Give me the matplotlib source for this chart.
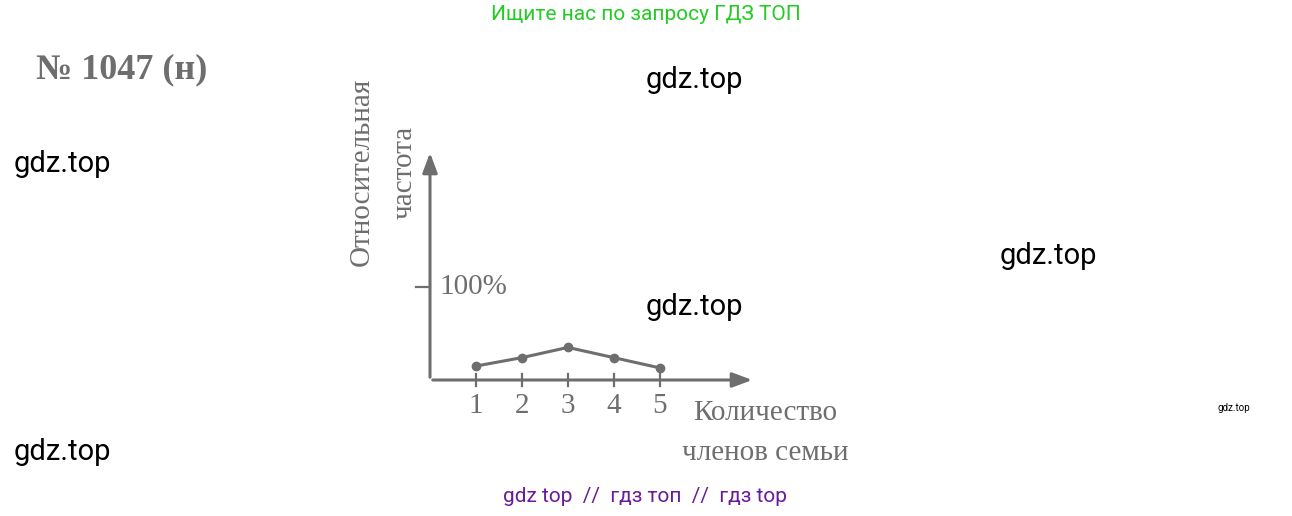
import matplotlib
matplotlib.use("Agg")
import matplotlib.pyplot as plt

members = [1, 2, 3, 4, 5]
rel_freq = [15, 24, 35, 24, 13]
tick_labels = ["1", "2", "3", "4", "5"]

W, H = 1292, 516
fig = plt.figure(figsize=(W/100, H/100), dpi=100)
gray = "#6e6e6e"
serif = "Liberation Serif"

def fx(px): return px / W
def fy(py): return 1 - py / H

ax = fig.add_axes([fx(430), fy(380), (755-430)/W, (380-150)/H])
ax.set_xlim(0, 7.07)
ax.set_ylim(0, 247)
ax.axis("off")
ax.annotate("", xy=(7.07, 0), xytext=(0, 0),
            arrowprops=dict(arrowstyle="-|>,head_length=1.2,head_width=0.45", color=gray, lw=2.2))
ax.annotate("", xy=(0, 247), xytext=(0, 0),
            arrowprops=dict(arrowstyle="-|>,head_length=1.2,head_width=0.45", color=gray, lw=2.2))
ax.plot(members, rel_freq, color=gray, lw=2.2, marker="o", ms=6, clip_on=False)
for m, l in zip(members, tick_labels):
    ax.plot([m, m], [-6, 6], color=gray, lw=1.6, clip_on=False)
    ax.text(m, -14, l, ha="center", va="top", fontsize=21, color=gray, family=serif)
ax.plot([-0.3, 0.0], [100, 100], color=gray, lw=1.6, clip_on=False)
ax.text(0.2, 100, "100%", ha="left", va="center", fontsize=21, color=gray, family=serif)

fig.text(fx(362), fy(172), "Относительная", rotation=90, ha="center", va="center",
         fontsize=21, color=gray, family=serif)
fig.text(fx(405), fy(172), "частота", rotation=90, ha="center", va="center",
         fontsize=21, color=gray, family=serif)
fig.text(fx(765), fy(413), "Количество", ha="center", va="center", fontsize=21, color=gray, family=serif)
fig.text(fx(765), fy(453), "членов семьи", ha="center", va="center", fontsize=21, color=gray, family=serif)
fig.text(fx(36), fy(70), "№ 1047 (н)", ha="left", va="center", fontsize=26, color=gray,
         family=serif, weight="bold")

fig.text(0.5, fy(14), "Ищите нас по запросу ГДЗ ТОП", ha="center", va="center",
         fontsize=15, color="#22cc22", family="Roboto")
fig.text(fx(645), fy(497), "gdz top  //  гдз топ  //  гдз top", ha="center", va="center",
         fontsize=15, color="#6a1b9a", family="Roboto")
for x, y, s in [(646, 80, 21), (14, 164, 21), (1000, 256, 21), (646, 307, 21), (14, 452, 21), (1217, 408, 7)]:
    fig.text(fx(x), fy(y), "gdz.top", ha="left", va="center", fontsize=s, color="black", family="Roboto")

fig.savefig("out.png", dpi=100)
